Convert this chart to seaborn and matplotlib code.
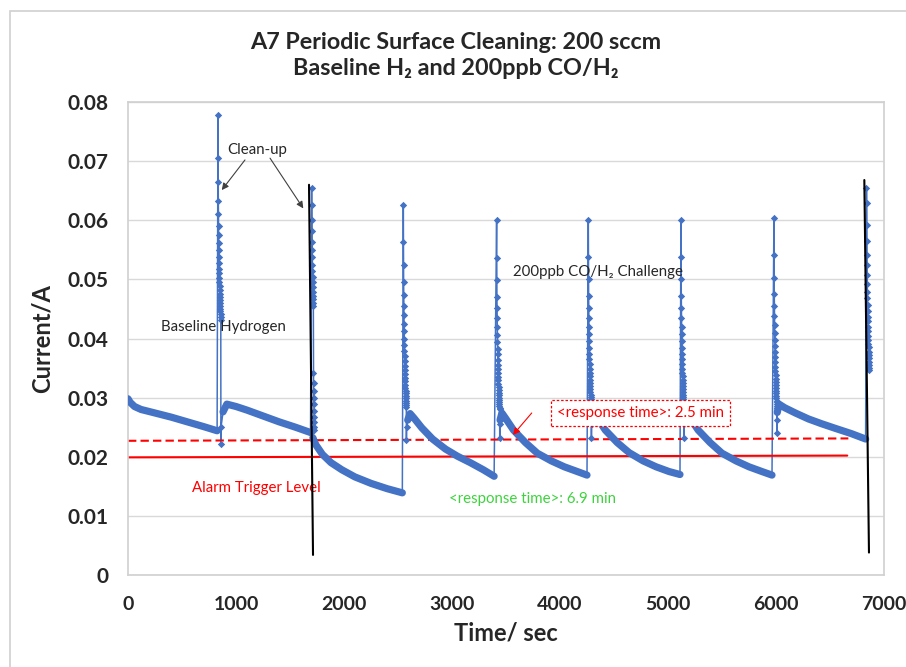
import pandas as pd
import seaborn as sns
import matplotlib.pyplot as plt
from matplotlib.patches import Rectangle

BLUE = "#4472C4"
RED = "#FF0000"
GREEN = "#3ED33E"

# logger interval inside a clean-up spike (s)
SAMPLE_DT = 1.0

# slow decays between clean-ups (time s, current A)
decay0_t = [0, 20, 60, 120, 250, 400, 550, 700, 825]
decay0_i = [0.0298, 0.0292, 0.0285, 0.0280, 0.0274, 0.0267, 0.0259, 0.0251, 0.0244]
decay1_t = [880, 915, 1000, 1100, 1250, 1400, 1550, 1690]
decay1_i = [0.0276, 0.0289, 0.0285, 0.0279, 0.0269, 0.0259, 0.0250, 0.0241]
decay2_t = [1712, 1740, 1800, 1880, 1980, 2100, 2250, 2400, 2540]
decay2_i = [0.0232, 0.0220, 0.0204, 0.0190, 0.0178, 0.0166, 0.0155, 0.0146, 0.0139]
decay3_t = [2590, 2612, 2650, 2720, 2820, 2940, 3050, 3170, 3290, 3390]
decay3_i = [0.0262, 0.0273, 0.0265, 0.0249, 0.0230, 0.0213, 0.0201, 0.0190, 0.0178, 0.0167]
decay4_t = [3445, 3462, 3500, 3570, 3680, 3790, 3920, 4040, 4160, 4250]
decay4_i = [0.0262, 0.0274, 0.0264, 0.0245, 0.0224, 0.0206, 0.0193, 0.0183, 0.0175, 0.0169]
decay5_t = [4295, 4312, 4350, 4420, 4530, 4640, 4770, 4890, 5010, 5111]
decay5_i = [0.0262, 0.0274, 0.0264, 0.0245, 0.0224, 0.0207, 0.0193, 0.0183, 0.0175, 0.0170]
decay6_t = [5152, 5170, 5210, 5280, 5390, 5500, 5630, 5750, 5870, 5963]
decay6_i = [0.0262, 0.0274, 0.0264, 0.0245, 0.0224, 0.0206, 0.0193, 0.0183, 0.0175, 0.0169]
decay7_t = [6012, 6028, 6080, 6180, 6300, 6420, 6550, 6700, 6830]
decay7_i = [0.0275, 0.0289, 0.0283, 0.0274, 0.0264, 0.0256, 0.0248, 0.0239, 0.0230]

# clean-up spikes: start time and successive samples
spike_t0 = [833, 1700, 2549, 3413, 4262, 5120, 5981, 6838]
spike1_i = [0.0778, 0.0705, 0.0664, 0.0633, 0.0610, 0.0590, 0.0575, 0.0561, 0.0549,
            0.0537, 0.0527, 0.0518, 0.0510, 0.0502, 0.0495, 0.0488, 0.0482, 0.0476,
            0.0470, 0.0465, 0.0460, 0.0455, 0.0450, 0.0446, 0.0442, 0.0437, 0.0432,
            0.0222, 0.0250]
spike2_i = [0.0654, 0.0625, 0.0600, 0.0581, 0.0564, 0.0550, 0.0537, 0.0525, 0.0514,
            0.0504, 0.0495, 0.0487, 0.0479, 0.0472, 0.0466, 0.0460, 0.0455, 0.0341,
            0.0325, 0.0311, 0.0300, 0.0289, 0.0278, 0.0268, 0.0259, 0.0251, 0.0245]
spike3_i = [0.0625, 0.0563, 0.0524, 0.0496, 0.0474, 0.0455, 0.0439, 0.0425, 0.0412,
            0.0400, 0.0389, 0.0379, 0.0370, 0.0362, 0.0354, 0.0347, 0.0340, 0.0334,
            0.0328, 0.0322, 0.0317, 0.0312, 0.0307, 0.0303, 0.0299, 0.0295, 0.0291,
            0.0288, 0.0285, 0.0228, 0.0250]
spike4_i = [0.0600, 0.0536, 0.0499, 0.0471, 0.0451, 0.0434, 0.0419, 0.0406, 0.0394,
            0.0383, 0.0373, 0.0364, 0.0356, 0.0349, 0.0342, 0.0335, 0.0329, 0.0323,
            0.0318, 0.0313, 0.0308, 0.0304, 0.0300, 0.0296, 0.0292, 0.0289, 0.0286,
            0.0283, 0.0280, 0.0231, 0.0255]
spike5_i = [0.0601, 0.0537, 0.0500, 0.0472, 0.0452, 0.0435, 0.0420, 0.0407, 0.0395,
            0.0384, 0.0374, 0.0365, 0.0357, 0.0349, 0.0342, 0.0336, 0.0330, 0.0324,
            0.0319, 0.0314, 0.0309, 0.0305, 0.0301, 0.0297, 0.0293, 0.0290, 0.0287,
            0.0284, 0.0281, 0.0232, 0.0255]
spike6_i = [0.0601, 0.0537, 0.0500, 0.0472, 0.0452, 0.0435, 0.0420, 0.0407, 0.0395,
            0.0384, 0.0374, 0.0365, 0.0357, 0.0349, 0.0342, 0.0336, 0.0330, 0.0324,
            0.0319, 0.0314, 0.0309, 0.0305, 0.0301, 0.0297, 0.0293, 0.0290, 0.0287,
            0.0284, 0.0281, 0.0232, 0.0255]
spike7_i = [0.0603, 0.0541, 0.0503, 0.0475, 0.0455, 0.0438, 0.0423, 0.0410, 0.0398,
            0.0387, 0.0377, 0.0368, 0.0360, 0.0352, 0.0345, 0.0338, 0.0332, 0.0326,
            0.0321, 0.0316, 0.0311, 0.0307, 0.0303, 0.0299, 0.0295, 0.0292, 0.0289,
            0.0286, 0.0283, 0.0240, 0.0262]
spike8_i = [0.0654, 0.0630, 0.0592, 0.0565, 0.0542, 0.0524, 0.0507, 0.0492, 0.0479,
            0.0468, 0.0457, 0.0447, 0.0437, 0.0429, 0.0420, 0.0412, 0.0405, 0.0398,
            0.0391, 0.0385, 0.0378, 0.0372, 0.0367, 0.0361, 0.0356, 0.0350, 0.0347]

# black clean-up markers drawn over the chart
cleanup_t = [[1676, 1713], [6818, 6861]]
cleanup_i = [[0.0660, 0.0034], [0.0668, 0.0038]]

# alarm level and response threshold
alarm_t = [0, 6660]
alarm_i = [0.0199, 0.0202]
resp_t = [0, 6670]
resp_i = [0.0227, 0.0231]

xticks = [0, 1000, 2000, 3000, 4000, 5000, 6000, 7000]
yticks = [0, 0.01, 0.02, 0.03, 0.04, 0.05, 0.06, 0.07, 0.08]
ytick_labels = ["0", "0.01", "0.02", "0.03", "0.04", "0.05", "0.06", "0.07", "0.08"]

decays = [(decay0_t, decay0_i), (decay1_t, decay1_i), (decay2_t, decay2_i),
          (decay3_t, decay3_i), (decay4_t, decay4_i), (decay5_t, decay5_i),
          (decay6_t, decay6_i), (decay7_t, decay7_i)]
spikes = [spike1_i, spike2_i, spike3_i, spike4_i, spike5_i, spike6_i, spike7_i, spike8_i]

frames = []
seg = 0
for k in range(8):
    t, i = decays[k]
    frames.append(pd.DataFrame({"time": t, "current": i, "kind": "decay", "seg": seg}))
    seg += 1
    vals = spikes[k]
    st = [spike_t0[k] + SAMPLE_DT * n for n in range(len(vals))]
    frames.append(pd.DataFrame({"time": st, "current": vals, "kind": "spike", "seg": seg}))
    seg += 1
df = pd.concat(frames, ignore_index=True)

sns.set_style("white")
plt.rcParams["font.family"] = ["Lato", "DejaVu Sans"]

fig = plt.figure(figsize=(9.06, 6.67), dpi=100)
ax = fig.add_axes([0.1413, 0.1379, 0.8344, 0.7092])

sns.lineplot(data=df, x="time", y="current", sort=False, estimator=None,
             color=BLUE, lw=1.1, ax=ax, zorder=2)
sns.lineplot(data=df[df["kind"] == "decay"], x="time", y="current", units="seg",
             sort=False, estimator=None, color=BLUE, lw=5.2,
             solid_capstyle="round", ax=ax, zorder=3)
sns.scatterplot(data=df[df["kind"] == "spike"], x="time", y="current", marker="D",
                s=14, color=BLUE, linewidth=0, ax=ax, zorder=3)

for t, i in zip(cleanup_t, cleanup_i):
    ax.plot(t, i, color="black", lw=1.5, zorder=4)

ax.plot(alarm_t, alarm_i, color=RED, lw=1.5, zorder=2)
ax.plot(resp_t, resp_i, color=RED, lw=1.5, ls=(0, (4, 2)), zorder=2)

ax.set_xlim(0, 7000)
ax.set_ylim(0, 0.08)
ax.set_xticks(xticks)
ax.set_yticks(yticks)
ax.set_yticklabels(ytick_labels)
ax.tick_params(length=0)
ax.tick_params(axis="y", pad=14, labelsize=15)
ax.tick_params(axis="x", pad=15, labelsize=14)
for lab in ax.get_xticklabels() + ax.get_yticklabels():
    lab.set_fontweight("bold")
ax.yaxis.grid(True, color="#D9D9D9", lw=1)
ax.set_axisbelow(True)
for sp in ax.spines.values():
    sp.set_color("#D0D0D0")
    sp.set_linewidth(1.2)

ax.set_xlabel("Time/ sec", fontsize=17, fontweight="bold", labelpad=6)
ax.set_ylabel("Current/A", fontsize=17, fontweight="bold", labelpad=10)

fig.text(0.503, 0.937, "A7 Periodic Surface Cleaning: 200 sccm",
         ha="center", va="center", fontsize=16.8, fontweight="bold")
fig.text(0.503, 0.897, "Baseline H\u2082 and 200ppb CO/H\u2082",
         ha="center", va="center", fontsize=16.8, fontweight="bold")

# annotations
ANN = 10.8
ax.text(1194, 0.0719, "Clean-up", ha="center", va="center", fontsize=ANN)
ax.annotate("", xy=(868, 0.0651), xytext=(1083, 0.0702),
            arrowprops=dict(arrowstyle="-|>", color="#404040", lw=0.8,
                            mutation_scale=10, shrinkA=0, shrinkB=0))
ax.annotate("", xy=(1623, 0.0620), xytext=(1315, 0.0705),
            arrowprops=dict(arrowstyle="-|>", color="#404040", lw=0.8,
                            mutation_scale=10, shrinkA=0, shrinkB=0))
ax.text(880, 0.0419, "Baseline Hydrogen", ha="center", va="center", fontsize=ANN)
ax.text(4352, 0.0513, "200ppb CO/H\u2082 Challenge", ha="center", va="center",
        fontsize=ANN)
ax.text(1185, 0.0147, "Alarm Trigger Level", ha="center", va="center",
        fontsize=ANN, color=RED)
ax.text(3750, 0.01285, "<response time>: 6.9 min", ha="center", va="center",
        fontsize=ANN, color=GREEN)
ax.text(4750, 0.0274, "<response time>: 2.5 min", ha="center", va="center",
        fontsize=ANN, color=RED,
        bbox=dict(boxstyle="square,pad=0.4", fc="white", ec=RED, ls=(0, (2, 1.5)),
                  lw=0.9))
ax.annotate("", xy=(3565, 0.0237), xytext=(3738, 0.0274),
            arrowprops=dict(arrowstyle="-|>", color=RED, lw=0.8,
                            mutation_scale=10, shrinkA=0, shrinkB=0))

# chart-area frame
fig.add_artist(Rectangle((0.011, -0.1), 1.2, 0.9835 + 0.1, transform=fig.transFigure,
                         fill=False, edgecolor="#D0D0D0", lw=1.2))

fig.savefig("out.png", dpi=100)
